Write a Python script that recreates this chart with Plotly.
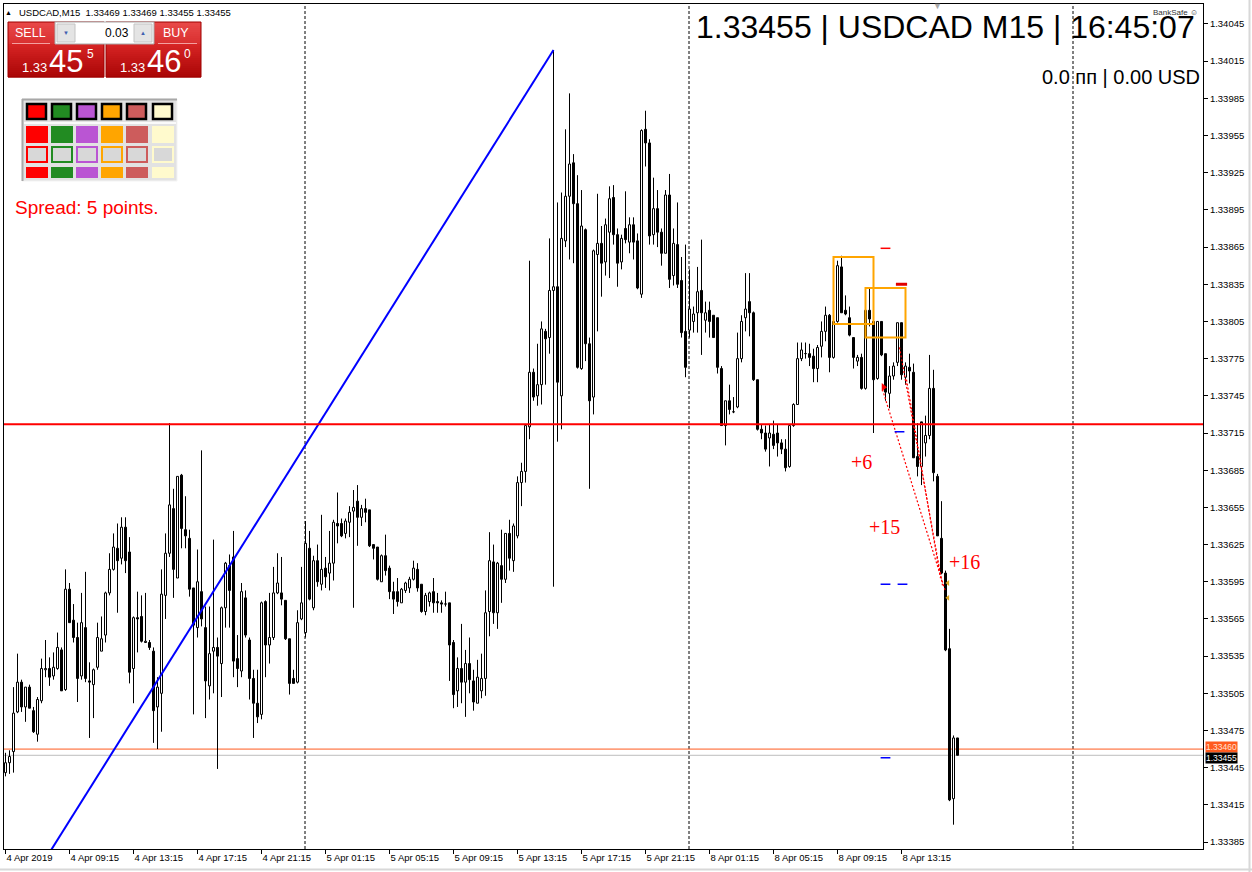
import plotly.graph_objects as go

# ---------------- data (USDCAD M15, bar index 0 = 4 Apr 2019 05:15) ----------------
bars = list(range(239))

open_ = [
    1.33441, 1.33449, 1.33458, 1.33490, 1.33514, 1.33494, 1.33510, 1.33491, 1.33472, 1.33499,
    1.33524, 1.33525, 1.33519, 1.33525, 1.33540, 1.33508, 1.33589, 1.33564, 1.33550, 1.33519,
    1.33558, 1.33515, 1.33512, 1.33526, 1.33539, 1.33552, 1.33586, 1.33605, 1.33622, 1.33614,
    1.33639, 1.33619, 1.33525, 1.33566, 1.33567, 1.33546, 1.33546, 1.33539, 1.33494, 1.33505,
    1.33584, 1.33618, 1.33654, 1.33598, 1.33681, 1.33637, 1.33630, 1.33590, 1.33558, 1.33587,
    1.33558, 1.33511, 1.33539, 1.33542, 1.33529, 1.33574, 1.33608, 1.33615, 1.33533, 1.33523,
    1.33582, 1.33548, 1.33517, 1.33497, 1.33488, 1.33579, 1.33544, 1.33550, 1.33586, 1.33586,
    1.33580, 1.33549, 1.33517, 1.33514, 1.33565, 1.33554, 1.33622, 1.33574, 1.33612, 1.33593,
    1.33606, 1.33602, 1.33610, 1.33642, 1.33642, 1.33634, 1.33643, 1.33652, 1.33660, 1.33647,
    1.33654, 1.33653, 1.33625, 1.33623, 1.33595, 1.33616, 1.33606, 1.33587, 1.33587, 1.33578,
    1.33588, 1.33590, 1.33597, 1.33605, 1.33593, 1.33571, 1.33579, 1.33587, 1.33579, 1.33578,
    1.33577, 1.33578, 1.33546, 1.33507, 1.33525, 1.33514, 1.33529, 1.33515, 1.33497, 1.33507,
    1.33517, 1.33571, 1.33611, 1.33570, 1.33608, 1.33597, 1.33634, 1.33612, 1.33632, 1.33675,
    1.33684, 1.33720, 1.33764, 1.33745, 1.33754, 1.33797, 1.33792, 1.33830, 1.33833, 1.33745,
    1.33870, 1.33906, 1.33933, 1.33900, 1.33767, 1.33879, 1.33787, 1.33744, 1.33859, 1.33868,
    1.33853, 1.33877, 1.33905, 1.33875, 1.33853, 1.33880, 1.33869, 1.33883, 1.33870, 1.33827,
    1.33960, 1.33949, 1.33875, 1.33896, 1.33877, 1.33860, 1.33907, 1.33842, 1.33867, 1.33838,
    1.33797, 1.33798, 1.33805, 1.33812, 1.33830, 1.33806, 1.33814, 1.33810, 1.33808, 1.33767,
    1.33721, 1.33741, 1.33732, 1.33736, 1.33775, 1.33808, 1.33821, 1.33812, 1.33758, 1.33718,
    1.33715, 1.33711, 1.33714, 1.33715, 1.33707, 1.33702, 1.33688, 1.33721, 1.33738, 1.33775,
    1.33779, 1.33779, 1.33777, 1.33767, 1.33785, 1.33797, 1.33810, 1.33776, 1.33805, 1.33849,
    1.33814, 1.33808, 1.33792, 1.33773, 1.33776, 1.33751, 1.33814, 1.33805, 1.33759, 1.33805,
    1.33779, 1.33747, 1.33761, 1.33772, 1.33804, 1.33760, 1.33768, 1.33764, 1.33696, 1.33688,
    1.33707, 1.33713, 1.33751, 1.33680, 1.33630, 1.33602, 1.33541, 1.33420, 1.33469,
]

high = [
    1.33457, 1.33459, 1.33510, 1.33537, 1.33516, 1.33510, 1.33512, 1.33494, 1.33502, 1.33533,
    1.33548, 1.33534, 1.33538, 1.33554, 1.33542, 1.33605, 1.33594, 1.33577, 1.33562, 1.33586,
    1.33603, 1.33530, 1.33525, 1.33562, 1.33567, 1.33587, 1.33618, 1.33634, 1.33642, 1.33647,
    1.33647, 1.33631, 1.33567, 1.33587, 1.33584, 1.33586, 1.33548, 1.33542, 1.33518, 1.33605,
    1.33634, 1.33723, 1.33670, 1.33680, 1.33682, 1.33664, 1.33637, 1.33590, 1.33621, 1.33701,
    1.33575, 1.33575, 1.33629, 1.33550, 1.33575, 1.33611, 1.33617, 1.33636, 1.33552, 1.33594,
    1.33588, 1.33550, 1.33524, 1.33524, 1.33579, 1.33580, 1.33586, 1.33607, 1.33618, 1.33615,
    1.33580, 1.33549, 1.33524, 1.33572, 1.33607, 1.33644, 1.33636, 1.33616, 1.33625, 1.33649,
    1.33615, 1.33636, 1.33645, 1.33667, 1.33646, 1.33646, 1.33656, 1.33669, 1.33673, 1.33657,
    1.33662, 1.33653, 1.33625, 1.33623, 1.33617, 1.33633, 1.33608, 1.33595, 1.33598, 1.33590,
    1.33595, 1.33599, 1.33612, 1.33610, 1.33593, 1.33586, 1.33587, 1.33598, 1.33586, 1.33580,
    1.33587, 1.33578, 1.33548, 1.33534, 1.33561, 1.33540, 1.33550, 1.33524, 1.33532, 1.33537,
    1.33588, 1.33635, 1.33625, 1.33611, 1.33637, 1.33634, 1.33645, 1.33642, 1.33680, 1.33691,
    1.33721, 1.33854, 1.33767, 1.33787, 1.33805, 1.33799, 1.33872, 1.34024, 1.33901, 1.33909,
    1.33960, 1.33989, 1.33940, 1.33923, 1.33911, 1.33880, 1.33792, 1.33863, 1.33908, 1.33882,
    1.33888, 1.33914, 1.33915, 1.33880, 1.33875, 1.33910, 1.33889, 1.33889, 1.33876, 1.33960,
    1.33975, 1.33952, 1.33921, 1.33911, 1.33880, 1.33911, 1.33924, 1.33880, 1.33901, 1.33857,
    1.33867, 1.33847, 1.33817, 1.33849, 1.33871, 1.33821, 1.33821, 1.33810, 1.33808, 1.33769,
    1.33741, 1.33754, 1.33744, 1.33796, 1.33810, 1.33844, 1.33844, 1.33813, 1.33758, 1.33722,
    1.33721, 1.33722, 1.33725, 1.33722, 1.33710, 1.33710, 1.33721, 1.33739, 1.33788, 1.33788,
    1.33788, 1.33787, 1.33783, 1.33786, 1.33805, 1.33817, 1.33811, 1.33817, 1.33854, 1.33858,
    1.33826, 1.33817, 1.33792, 1.33778, 1.33779, 1.33815, 1.33832, 1.33805, 1.33805, 1.33805,
    1.33779, 1.33769, 1.33772, 1.33804, 1.33804, 1.33772, 1.33779, 1.33771, 1.33723, 1.33723,
    1.33729, 1.33778, 1.33766, 1.33682, 1.33660, 1.33604, 1.33557, 1.33471, 1.33469,
]

low = [
    1.33438, 1.33440, 1.33441, 1.33489, 1.33490, 1.33482, 1.33493, 1.33473, 1.33466, 1.33497,
    1.33518, 1.33511, 1.33516, 1.33524, 1.33507, 1.33507, 1.33562, 1.33546, 1.33498, 1.33516,
    1.33514, 1.33469, 1.33485, 1.33524, 1.33539, 1.33546, 1.33584, 1.33604, 1.33570, 1.33609,
    1.33602, 1.33513, 1.33497, 1.33538, 1.33546, 1.33546, 1.33540, 1.33465, 1.33460, 1.33474,
    1.33565, 1.33615, 1.33582, 1.33598, 1.33622, 1.33622, 1.33583, 1.33488, 1.33550, 1.33559,
    1.33485, 1.33500, 1.33505, 1.33444, 1.33502, 1.33558, 1.33558, 1.33518, 1.33510, 1.33518,
    1.33550, 1.33500, 1.33469, 1.33481, 1.33484, 1.33518, 1.33529, 1.33548, 1.33585, 1.33576,
    1.33548, 1.33504, 1.33513, 1.33513, 1.33564, 1.33550, 1.33580, 1.33572, 1.33591, 1.33588,
    1.33590, 1.33588, 1.33596, 1.33626, 1.33631, 1.33630, 1.33631, 1.33574, 1.33624, 1.33640,
    1.33643, 1.33623, 1.33613, 1.33596, 1.33595, 1.33600, 1.33581, 1.33569, 1.33575, 1.33578,
    1.33586, 1.33586, 1.33596, 1.33587, 1.33570, 1.33568, 1.33575, 1.33570, 1.33570, 1.33570,
    1.33575, 1.33515, 1.33493, 1.33494, 1.33497, 1.33486, 1.33505, 1.33491, 1.33497, 1.33501,
    1.33503, 1.33551, 1.33561, 1.33557, 1.33578, 1.33594, 1.33604, 1.33603, 1.33630, 1.33656,
    1.33675, 1.33710, 1.33741, 1.33737, 1.33738, 1.33754, 1.33779, 1.33591, 1.33708, 1.33718,
    1.33865, 1.33855, 1.33852, 1.33767, 1.33766, 1.33773, 1.33670, 1.33730, 1.33797, 1.33825,
    1.33842, 1.33840, 1.33867, 1.33833, 1.33847, 1.33868, 1.33860, 1.33855, 1.33831, 1.33824,
    1.33930, 1.33867, 1.33867, 1.33865, 1.33850, 1.33860, 1.33832, 1.33834, 1.33832, 1.33792,
    1.33760, 1.33792, 1.33796, 1.33796, 1.33778, 1.33796, 1.33792, 1.33792, 1.33763, 1.33721,
    1.33705, 1.33730, 1.33731, 1.33735, 1.33772, 1.33797, 1.33793, 1.33757, 1.33717, 1.33710,
    1.33700, 1.33688, 1.33702, 1.33696, 1.33698, 1.33684, 1.33687, 1.33720, 1.33738, 1.33773,
    1.33775, 1.33769, 1.33756, 1.33756, 1.33776, 1.33789, 1.33764, 1.33775, 1.33804, 1.33812,
    1.33810, 1.33793, 1.33767, 1.33769, 1.33750, 1.33750, 1.33801, 1.33715, 1.33758, 1.33777,
    1.33741, 1.33735, 1.33758, 1.33769, 1.33758, 1.33754, 1.33755, 1.33695, 1.33680, 1.33673,
    1.33696, 1.33710, 1.33676, 1.33632, 1.33601, 1.33539, 1.33418, 1.33399, 1.33455,
]

close = [
    1.33449, 1.33454, 1.33489, 1.33514, 1.33494, 1.33510, 1.33493, 1.33474, 1.33500, 1.33525,
    1.33525, 1.33518, 1.33526, 1.33542, 1.33507, 1.33589, 1.33562, 1.33550, 1.33517, 1.33562,
    1.33517, 1.33514, 1.33524, 1.33550, 1.33549, 1.33586, 1.33605, 1.33623, 1.33612, 1.33639,
    1.33612, 1.33522, 1.33566, 1.33565, 1.33547, 1.33547, 1.33542, 1.33491, 1.33510, 1.33585,
    1.33618, 1.33657, 1.33605, 1.33680, 1.33638, 1.33632, 1.33589, 1.33560, 1.33595, 1.33565,
    1.33515, 1.33537, 1.33542, 1.33535, 1.33574, 1.33610, 1.33588, 1.33531, 1.33525, 1.33587,
    1.33552, 1.33517, 1.33497, 1.33486, 1.33578, 1.33544, 1.33550, 1.33586, 1.33594, 1.33581,
    1.33549, 1.33513, 1.33513, 1.33562, 1.33578, 1.33626, 1.33581, 1.33612, 1.33595, 1.33605,
    1.33599, 1.33610, 1.33643, 1.33640, 1.33632, 1.33644, 1.33651, 1.33655, 1.33647, 1.33654,
    1.33651, 1.33624, 1.33622, 1.33597, 1.33616, 1.33604, 1.33587, 1.33581, 1.33579, 1.33589,
    1.33594, 1.33597, 1.33606, 1.33590, 1.33571, 1.33584, 1.33586, 1.33578, 1.33578, 1.33577,
    1.33577, 1.33544, 1.33504, 1.33525, 1.33514, 1.33529, 1.33516, 1.33498, 1.33518, 1.33517,
    1.33570, 1.33612, 1.33570, 1.33610, 1.33597, 1.33634, 1.33614, 1.33640, 1.33675, 1.33684,
    1.33721, 1.33764, 1.33744, 1.33754, 1.33799, 1.33791, 1.33830, 1.33833, 1.33756, 1.33872,
    1.33906, 1.33932, 1.33900, 1.33768, 1.33882, 1.33787, 1.33741, 1.33862, 1.33868, 1.33852,
    1.33883, 1.33904, 1.33875, 1.33852, 1.33872, 1.33871, 1.33883, 1.33869, 1.33832, 1.33959,
    1.33949, 1.33874, 1.33896, 1.33877, 1.33860, 1.33907, 1.33839, 1.33868, 1.33835, 1.33796,
    1.33768, 1.33815, 1.33811, 1.33829, 1.33812, 1.33812, 1.33805, 1.33792, 1.33768, 1.33721,
    1.33741, 1.33734, 1.33732, 1.33775, 1.33805, 1.33815, 1.33812, 1.33758, 1.33718, 1.33715,
    1.33702, 1.33715, 1.33705, 1.33707, 1.33702, 1.33687, 1.33721, 1.33738, 1.33775, 1.33782,
    1.33779, 1.33776, 1.33767, 1.33784, 1.33797, 1.33810, 1.33776, 1.33805, 1.33850, 1.33812,
    1.33811, 1.33794, 1.33776, 1.33776, 1.33751, 1.33814, 1.33807, 1.33758, 1.33805, 1.33778,
    1.33748, 1.33761, 1.33769, 1.33804, 1.33762, 1.33769, 1.33765, 1.33695, 1.33688, 1.33724,
    1.33713, 1.33751, 1.33683, 1.33632, 1.33602, 1.33540, 1.33419, 1.33469, 1.33455,
]

x_tick_bars = [0, 16, 32, 48, 64, 80, 96, 112, 128, 144, 160, 176, 192, 208, 224]
x_tick_labels = ["4 Apr 2019", "4 Apr 09:15", "4 Apr 13:15", "4 Apr 17:15", "4 Apr 21:15",
                 "5 Apr 01:15", "5 Apr 05:15", "5 Apr 09:15", "5 Apr 13:15", "5 Apr 17:15",
                 "5 Apr 21:15", "8 Apr 01:15", "8 Apr 05:15", "8 Apr 09:15", "8 Apr 13:15"]
y_tick_values = [round(1.33385 + 0.0003 * k, 5) for k in range(23)]

symbol = "USDCAD"
timeframe = "M15"
server_time = "16:45:07"
lot_size = "0.03"
spread_points = 5
profit_text = "0.0 пп | 0.00 USD"

day_start_bars = [75, 171, 267]
level_price = 1.33722
trend_bars = [0, 137]
trend_prices = [1.33320, 1.34024]

box_bar_from = [207, 215]
box_bar_to = [217, 225]
box_price_top = [1.33857, 1.33832]
box_price_bottom = [1.33803, 1.33792]

trade_open_bars = [219.25, 223.5, 225.25]
trade_open_prices = [1.33750, 1.33784, 1.33758]
trade_close_bars = [235.0, 234.25, 233.75]
trade_close_prices = [1.33587, 1.33592, 1.33598]
profit_labels = ["+6", "+15", "+16"]
profit_label_bars = [214.0, 219.75, 239.75]
profit_label_prices = [1.33692, 1.33639, 1.33611]

red_mark_bars = [220.0]
red_mark_prices = [1.33864]
red_mark2_bars = [224.0]
red_mark2_prices = [1.33835]
blue_mark_bars = [223.5, 220.0, 224.25, 220.0]
blue_mark_prices = [1.33716, 1.33593, 1.33593, 1.33453]
gold_mark_bars = [235.6, 235.6]
gold_mark_prices = [1.33594, 1.33582]

bid = close[-1]
ask = round(bid + spread_points * 0.00001, 5)

# ---------------- geometry helpers for overlay widgets ----------------
W, H = 1252, 872
PL, PR, PT, PB = 4, 1203, 4, 849
FONT = "Liberation Sans"


def px(x):
    return (x - PL) / (PR - PL)


def py(y):
    return (PB - y) / (PB - PT)


shapes = []
annotations = []


def rect(x0, y0, x1, y1, fill=None, line=None, lw=0, layer="above"):
    shapes.append(dict(type="rect", xref="paper", yref="paper",
                       x0=px(x0), x1=px(x1), y0=py(y1), y1=py(y0),
                       fillcolor=fill if fill else "rgba(0,0,0,0)",
                       line=dict(color=line if line else "rgba(0,0,0,0)", width=lw),
                       layer=layer))


def hline(x0, x1, y, color, lw=1):
    shapes.append(dict(type="line", xref="paper", yref="paper", x0=px(x0), x1=px(x1),
                       y0=py(y), y1=py(y), line=dict(color=color, width=lw), layer="above"))


def vline(x, y0, y1, color, lw=1):
    shapes.append(dict(type="line", xref="paper", yref="paper", x0=px(x), x1=px(x),
                       y0=py(y0), y1=py(y1), line=dict(color=color, width=lw), layer="above"))


def text(x, y, s, size, color="black", family=FONT, xanchor="left", yanchor="middle", **kw):
    annotations.append(dict(xref="paper", yref="paper", x=px(x), y=py(y), text=s,
                            showarrow=False, xanchor=xanchor, yanchor=yanchor,
                            borderpad=0, borderwidth=0,
                            font=dict(size=size, color=color, family=family), **kw))


def mix(c0, c1, t):
    return "rgb(%d,%d,%d)" % tuple(round(a + (b - a) * t) for a, b in zip(c0, c1))


def vgrad(x0, y0, x1, y1, c_top, c_bot, step=2):
    y = y0
    while y < y1:
        y2 = min(y + step, y1)
        t = (y - y0) / max(1, (y1 - y0))
        rect(x0, y, x1, y2 + 0.5, fill=mix(c_top, c_bot, t))
        y = y2


# header line
text(5, 12, "▲", 7)
text(19, 12, f"{symbol},{timeframe}  {open_[-1]:.5f} {high[-1]:.5f} {low[-1]:.5f} {close[-1]:.5f}", 9.5)

# one-click trading panel
for bx0, bx1 in [(8, 104), (106, 201)]:
    vgrad(bx0, 22, bx1, 44, (232, 72, 72), (216, 46, 46))
    vgrad(bx0, 44, bx1, 77, (214, 36, 36), (168, 4, 4))
    rect(bx0, 22, bx1, 77, line="#9E0000", lw=1)
hline(12, 50, 43.5, "#F4A0A0", 1)
hline(158, 197, 43.5, "#F4A0A0", 1)
text(30, 33, "SELL", 12.5, "white", xanchor="center")
text(176, 33, "BUY", 12.5, "white", xanchor="center")
rect(55, 22, 154, 44, fill="white", line="#A8A8A8", lw=1)
rect(57, 24, 75, 42, fill="#E4E4E4", line="#C4C4C4", lw=1)
rect(134, 24, 152, 42, fill="#E4E4E4", line="#C4C4C4", lw=1)
text(66, 33, "▼", 6, "#4060B0", xanchor="center")
text(143, 33, "▲", 6, "#4060B0", xanchor="center")
text(129, 33, lot_size, 12, "black", xanchor="right")

bid_s, ask_s = f"{bid:.5f}", f"{ask:.5f}"
text(34, 68, bid_s[:4], 13, "white", xanchor="center")
text(66, 61, bid_s[4:6], 31, "white", xanchor="center")
text(90, 54, bid_s[6], 12, "white", xanchor="center")
text(132, 68, ask_s[:4], 13, "white", xanchor="center")
text(164, 61, ask_s[4:6], 31, "white", xanchor="center")
text(187, 54, ask_s[6], 12, "white", xanchor="center")

# colour palette widget
palette_colors = ["#FF0000", "#228B22", "#BA55D3", "#FFA500", "#CD5C5C", "#FFFACD"]
rect(22, 99, 177, 181, fill="#E2E2E2", line="#F4F4F4", lw=1)
hline(22, 177, 99.5, "#A8A8A8", 2)
vline(22.5, 99, 181, "#A8A8A8", 2)
hline(24, 176, 123, "#FAFAFA", 2)
col_x = [26, 51, 76, 101, 126, 152]
for cx, col in zip(col_x, palette_colors):
    rect(cx + 1, 104, cx + 20, 119, fill=col, line="black", lw=2.5)
    rect(cx, 126, cx + 22, 143, fill=col)
    rect(cx + 1, 147, cx + 21, 162, fill="#D8D8D8", line=col, lw=2)
    rect(cx, 167, cx + 22, 178, fill=col)

text(15, 207, f"Spread: {spread_points} points.", 19, "#FF0000")

# big title and info lines
text(1195, 27, f"{bid:.5f} | {symbol} {timeframe} | {server_time}", 32, "black", xanchor="right")
text(1200, 77, profit_text, 20, "black", xanchor="right")
text(1198, 12, "BankSafe ☺", 8, "#333333", xanchor="right")
text(937, 6, "▼", 9, "#A8A8A8", xanchor="center")

# window frame lines
shapes.append(dict(type="line", xref="paper", yref="paper", x0=px(1249.5), x1=px(1249.5),
                   y0=py(0), y1=py(872), line=dict(color="#D8D8D8", width=2)))
shapes.append(dict(type="line", xref="paper", yref="paper", x0=px(0), x1=px(1252),
                   y0=py(869.5), y1=py(869.5), line=dict(color="#D8D8D8", width=2)))

# ---------------- chart elements in data coordinates ----------------
for b in day_start_bars:
    shapes.append(dict(type="line", xref="x", yref="paper", x0=b - 0.125, x1=b - 0.125, y0=0, y1=1,
                       line=dict(color="black", width=1, dash="3px,2px"), layer="below"))

shapes.append(dict(type="line", xref="paper", yref="y", x0=0, x1=1, y0=ask, y1=ask,
                   line=dict(color="#FF5A1E", width=1), layer="below"))
shapes.append(dict(type="line", xref="paper", yref="y", x0=0, x1=1, y0=bid, y1=bid,
                   line=dict(color="#BDBDBD", width=1), layer="below"))
shapes.append(dict(type="line", xref="paper", yref="y", x0=0, x1=1, y0=level_price, y1=level_price,
                   line=dict(color="#FF0000", width=2), layer="above"))

for b0, b1, pt, pb in zip(box_bar_from, box_bar_to, box_price_top, box_price_bottom):
    shapes.append(dict(type="rect", xref="x", yref="y", x0=b0, x1=b1, y0=pb, y1=pt,
                       line=dict(color="#FFA500", width=2), fillcolor="rgba(0,0,0,0)", layer="above"))

# candles: wicks (above and below body) + bodies (hollow up / filled down)
wick_x, wick_y = [], []
body_base, body_h, body_fill = [], [], []
for i, o, h, l, c in zip(bars, open_, high, low, close):
    top, bot = max(o, c), min(o, c)
    wick_x += [i, i, None, i, i, None]
    wick_y += [h, top, None, bot, l, None]
    body_base.append(bot)
    body_h.append(max(top - bot, 0.0000012))
    body_fill.append("white" if c > o else "black")

fig = go.Figure()
fig.add_trace(go.Bar(x=bars, y=body_h, base=body_base, width=0.5,
                     marker=dict(color=body_fill, line=dict(color="black", width=1)),
                     hoverinfo="skip", showlegend=False))
fig.add_trace(go.Scatter(x=wick_x, y=wick_y, mode="lines", line=dict(color="black", width=1),
                         hoverinfo="skip", showlegend=False))

fig.add_trace(go.Scatter(x=trend_bars, y=trend_prices, mode="lines",
                         line=dict(color="#0000FF", width=2), hoverinfo="skip", showlegend=False))

for b0, p0, b1, p1 in zip(trade_open_bars, trade_open_prices, trade_close_bars, trade_close_prices):
    fig.add_trace(go.Scatter(x=[b0, b1], y=[p0, p1], mode="lines",
                             line=dict(color="#FF0000", width=1.2, dash="2px,2px"),
                             hoverinfo="skip", showlegend=False))

fig.add_trace(go.Scatter(x=[trade_open_bars[0] + 0.25], y=[trade_open_prices[0] + 0.00002], mode="markers",
                         marker=dict(symbol="triangle-right", size=7, color="#FF0000"),
                         hoverinfo="skip", showlegend=False))
fig.add_trace(go.Scatter(x=red_mark_bars, y=red_mark_prices, mode="markers",
                         marker=dict(symbol="line-ew", size=7, line=dict(color="#FF0000", width=1.5)),
                         hoverinfo="skip", showlegend=False))
fig.add_trace(go.Scatter(x=red_mark2_bars, y=red_mark2_prices, mode="markers",
                         marker=dict(symbol="line-ew", size=8, line=dict(color="#E00000", width=3)),
                         hoverinfo="skip", showlegend=False))
fig.add_trace(go.Scatter(x=blue_mark_bars, y=blue_mark_prices, mode="markers",
                         marker=dict(symbol="line-ew", size=7, line=dict(color="#0000FF", width=1.5)),
                         hoverinfo="skip", showlegend=False))
fig.add_trace(go.Scatter(x=gold_mark_bars, y=gold_mark_prices, mode="markers",
                         marker=dict(symbol="triangle-left", size=5, color="#DAA520"),
                         hoverinfo="skip", showlegend=False))

for lab, b, p in zip(profit_labels, profit_label_bars, profit_label_prices):
    annotations.append(dict(xref="x", yref="y", x=b, y=p, text=lab, showarrow=False,
                            xanchor="center", yanchor="middle",
                            font=dict(family="Liberation Serif", size=20, color="#FF0000")))

# current ask / bid labels on the price scale
annotations.append(dict(xref="paper", yref="paper", x=px(1205), y=py(746.5), text=f"{ask:.5f}",
                        showarrow=False, xanchor="left", yanchor="middle", bgcolor="#FF5A1E",
                        borderpad=0, font=dict(family=FONT, size=8.5, color="#FFE0D0")))
annotations.append(dict(xref="paper", yref="paper", x=px(1205), y=py(757.5), text=f"{bid:.5f}",
                        showarrow=False, xanchor="left", yanchor="middle", bgcolor="black",
                        borderpad=0, font=dict(family=FONT, size=8.5, color="white")))

fig.update_layout(
    width=W, height=H,
    margin=dict(l=PL, r=W - PR, t=PT, b=H - PB),
    paper_bgcolor="white", plot_bgcolor="white",
    showlegend=False, hovermode=False, dragmode=False, barmode="overlay",
    shapes=shapes, annotations=annotations,
    font=dict(family=FONT, size=9.5, color="black"),
    xaxis=dict(range=[-0.375, 299.375],
               tickmode="array", tickvals=x_tick_bars, ticktext=x_tick_labels,
               ticks="outside", ticklen=4, tickcolor="black", tickwidth=1,
               ticklabelposition="outside right",
               showgrid=False, zeroline=False, showline=True, linecolor="black",
               linewidth=1, mirror=True, tickfont=dict(family=FONT, size=9.5, color="black")),
    yaxis=dict(range=[1.333794, 1.340611], side="right",
               tickmode="array", tickvals=y_tick_values,
               ticktext=[f"{v:.5f}" for v in y_tick_values],
               ticks="outside", ticklen=4, tickcolor="black", tickwidth=1,
               showgrid=False, zeroline=False, showline=True, linecolor="black",
               linewidth=1, mirror=True, tickfont=dict(family=FONT, size=9.5, color="black")),
)

fig.write_html("out.html", include_plotlyjs=True, config={"displayModeBar": False, "staticPlot": True})
